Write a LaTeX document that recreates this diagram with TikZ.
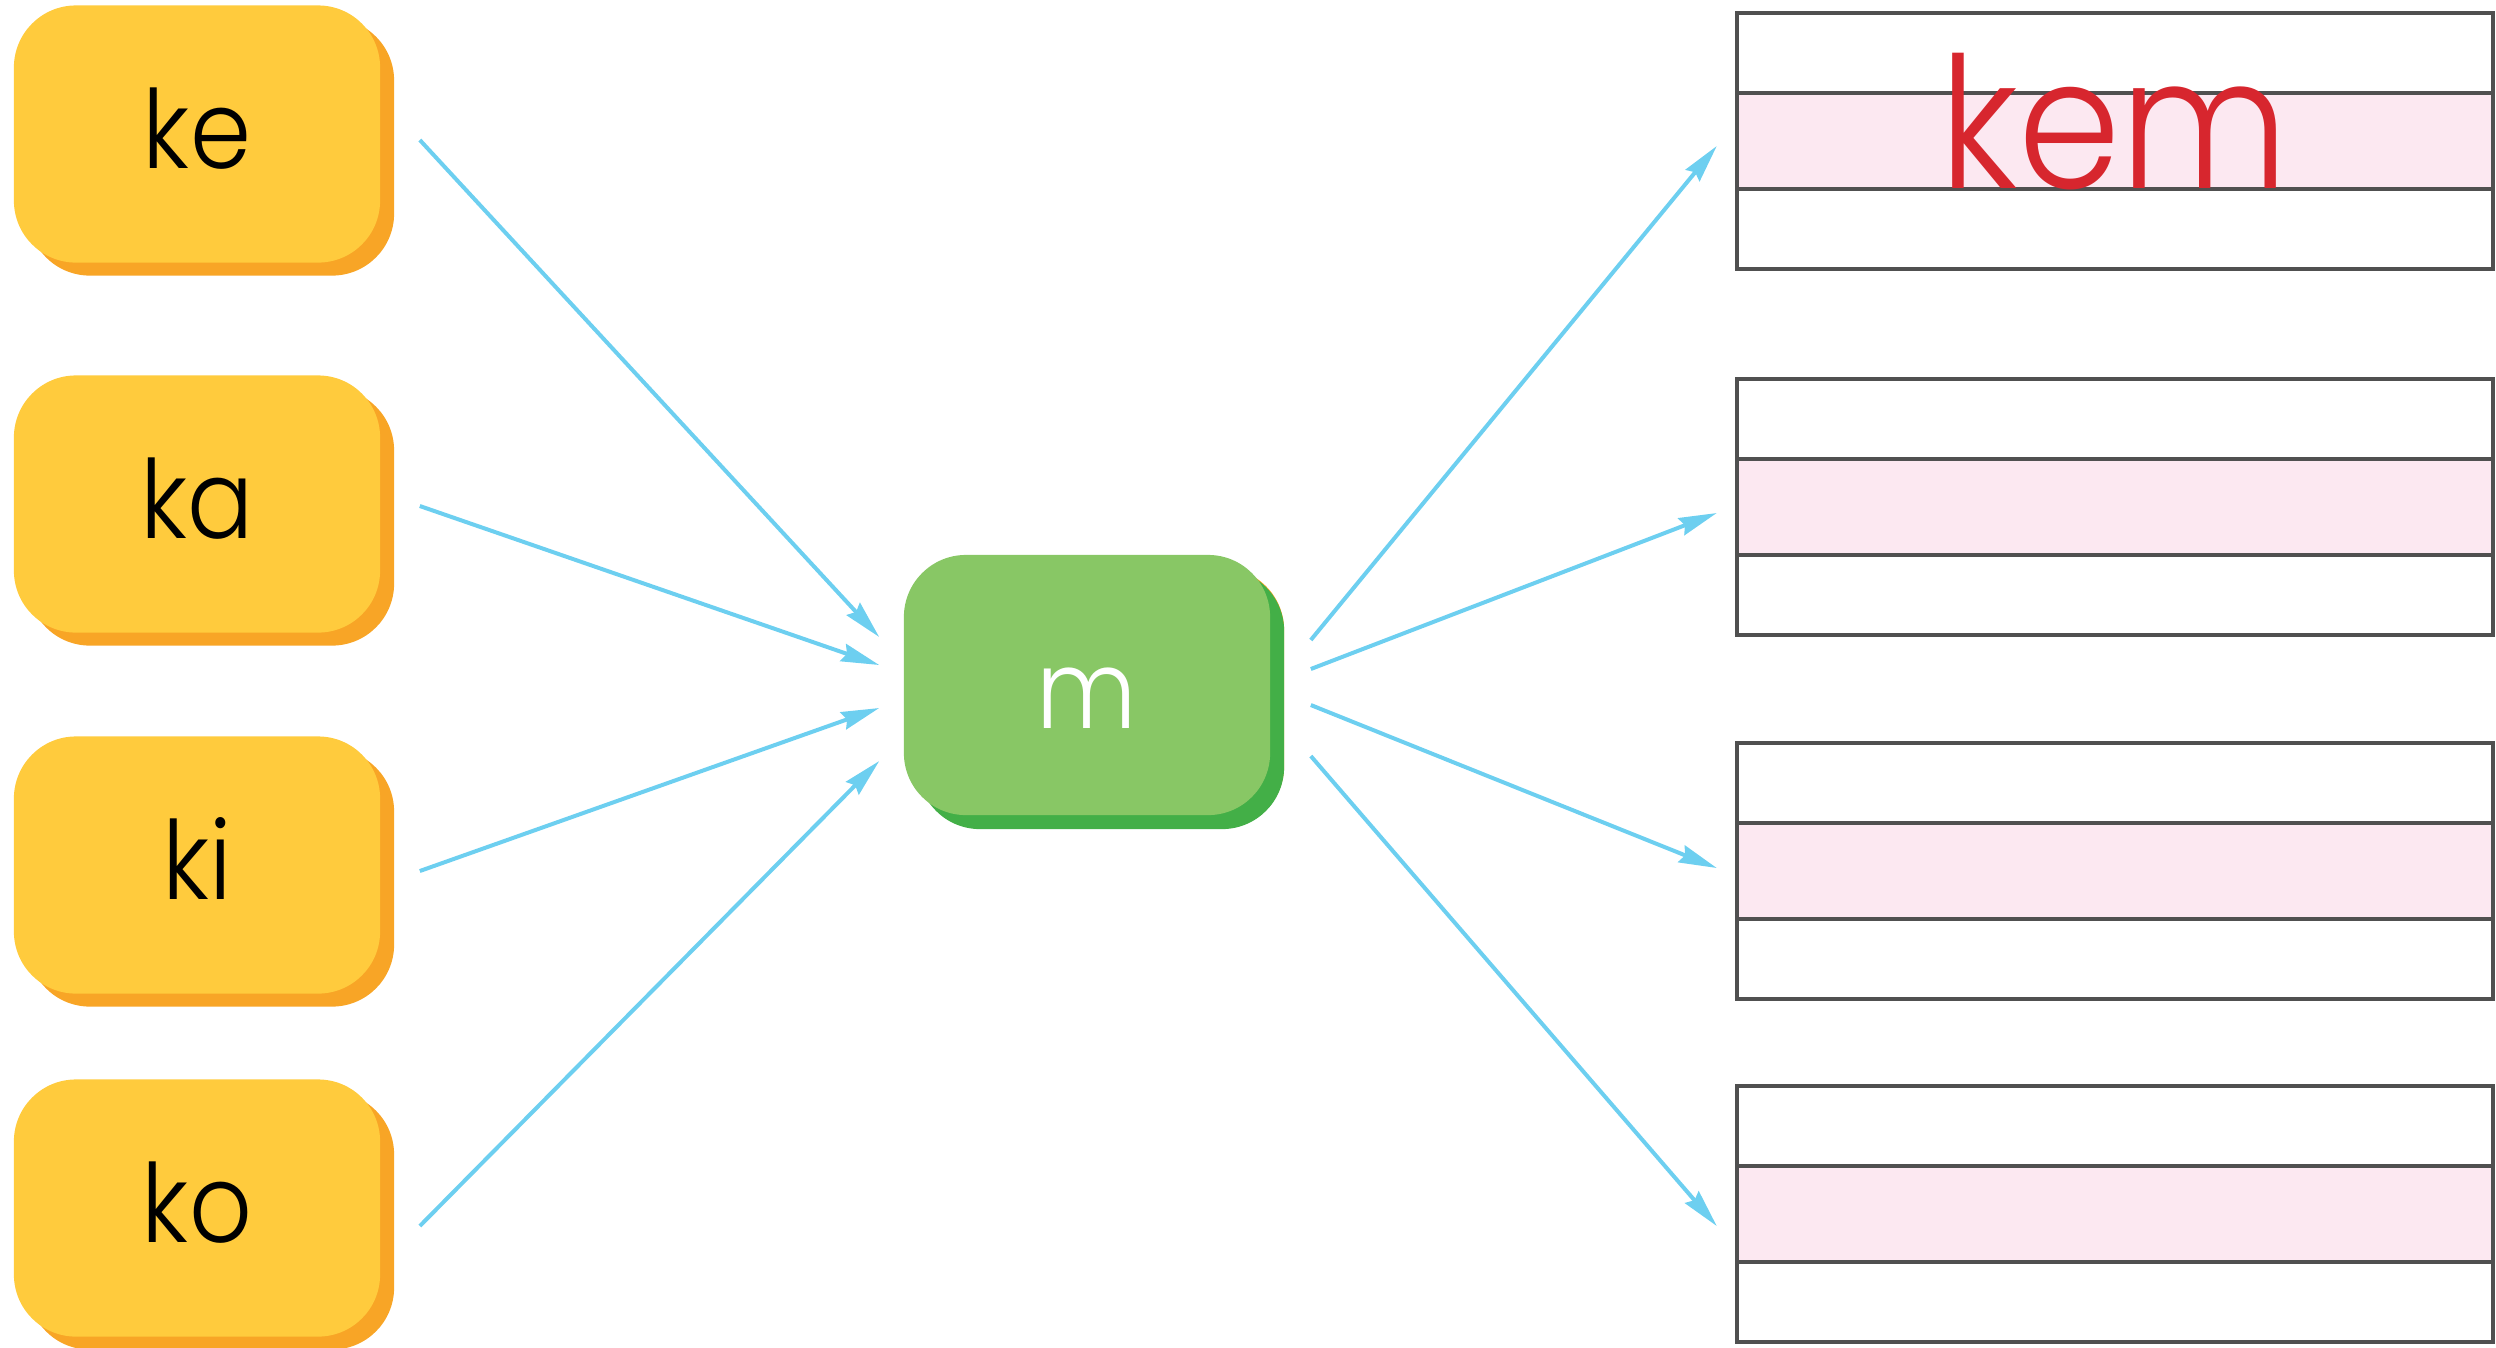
\documentclass[tikz,border=0pt]{standalone}
\usepackage{fontspec}
\setmainfont{Poppins Light}[FakeStretch=0.9]
\usetikzlibrary{arrows.meta, shadows, positioning}
\definecolor{syllface}{HTML}{FFCB3D}
\definecolor{syllshade}{HTML}{F8A526}
\definecolor{consface}{HTML}{88C765}
\definecolor{consshade}{HTML}{43AF47}
\definecolor{pinkband}{HTML}{FCE8F1}
\definecolor{arrowblue}{HTML}{6DCFF0}
\definecolor{rulegray}{HTML}{505050}
\definecolor{inkred}{HTML}{D7262E}
\tikzset{>={Stealth[length=3.8mm, width=1.8mm, inset=0.4mm]}}

\begin{document}
\begin{tikzpicture}[x=0.01cm, y=0.01cm,
    syllable/.style={rounded corners=0.62cm, minimum width=3.66cm, minimum height=2.57cm,
      inner sep=0pt, fill=syllface, font=\fontsize{31}{33}\selectfont,
      text height=0.68cm, text depth=0pt,
      copy shadow={shadow xshift=0.14cm, shadow yshift=-0.13cm, fill=syllshade, draw=none}},
    consonant/.style={syllable, minimum height=2.6cm, fill=consface, text=white,
      text height=0.86cm,
      copy shadow={shadow xshift=0.14cm, shadow yshift=-0.14cm, fill=consshade, draw=none}},
    rowbox/.style={draw=rulegray, line width=0.04cm, minimum width=7.56cm,
      minimum height=2.56cm, inner sep=0pt},
    ruling/.style={rulegray, line width=0.04cm},
    link/.style={->, arrowblue, line width=0.04cm}]

  \useasboundingbox (0,0) rectangle (2496,-1347);

  % syllables on the left
  \node[syllable] (ke) at (197,-134) {ke};
  \node[syllable] (ka) at (197,-504) {ka};
  \node[syllable] (ki) at (197,-865) {ki};
  \node[syllable] (ko) at (197,-1208) {ko};

  % final consonant
  \node[consonant] (m) at (1087,-685) {m};

  % writing rows on the right
  \foreach \y [count=\i] in {13,379,743,1086} {
    \fill[pinkband] (1737,-\y-80) rectangle (2493,-\y-176);
    \draw[ruling] (1737,-\y-80) -- (2493,-\y-80) (1737,-\y-176) -- (2493,-\y-176);
    \node[rowbox] (row\i) at (2115,-\y-128) {};
  }
  \node[font=\fontsize{52}{54}\selectfont, text=inkred, anchor=base] (kem) at (2114,-188) {kem};

  % arrows into m
  \draw[link] ([xshift=0.39cm, yshift=-0.06cm]ke.east) -- ([xshift=-0.24cm, yshift=0.48cm]m.west);
  \draw[link] ([xshift=0.39cm, yshift=-0.02cm]ka.east) -- ([xshift=-0.24cm, yshift=0.20cm]m.west);
  \draw[link] ([xshift=0.39cm, yshift=-0.06cm]ki.east) -- ([xshift=-0.24cm, yshift=-0.23cm]m.west);
  \draw[link] ([xshift=0.39cm, yshift=-0.18cm]ko.east) -- ([xshift=-0.24cm, yshift=-0.76cm]m.west);

  % arrows out of m
  \draw[link] ([xshift=0.40cm, yshift=0.45cm]m.east) -- ([xshift=-0.18cm, yshift=-0.05cm]row1.west);
  \draw[link] ([xshift=0.40cm, yshift=0.16cm]m.east) -- ([xshift=-0.18cm, yshift=-0.06cm]row2.west);
  \draw[link] ([xshift=0.40cm, yshift=-0.20cm]m.east) -- ([xshift=-0.18cm, yshift=0.03cm]row3.west);
  \draw[link] ([xshift=0.40cm, yshift=-0.71cm]m.east) -- ([xshift=-0.18cm, yshift=-0.12cm]row4.west);

\end{tikzpicture}
\end{document}
